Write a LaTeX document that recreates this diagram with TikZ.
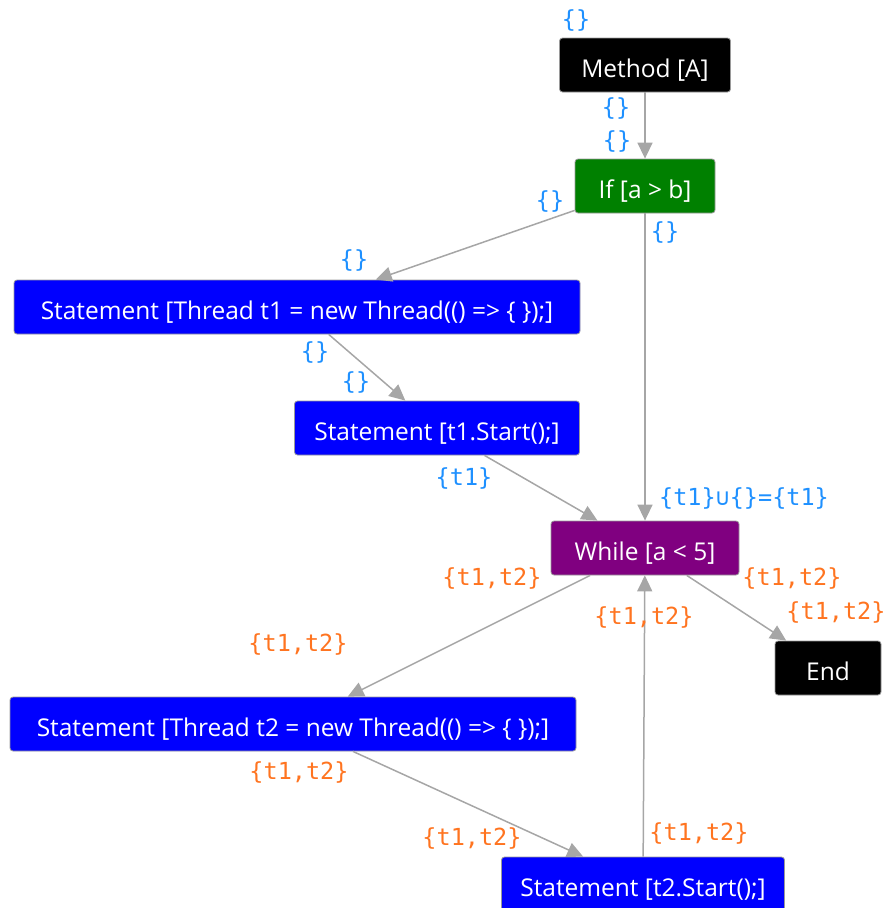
\documentclass[tikz,border=0pt]{standalone}
\usepackage{fontspec}
\setmainfont{Open Sans}
\newfontfamily\setfont{DejaVu Sans Mono}
\usetikzlibrary{arrows.meta}
\definecolor{edgegray}{HTML}{A6A6A6}
\definecolor{setblue}{HTML}{1E90FF}
\definecolor{setorange}{HTML}{FF7420}
\definecolor{stmtblue}{HTML}{0000FF}
\definecolor{ifgreen}{HTML}{008000}
\definecolor{loopviolet}{HTML}{800080}
\definecolor{boxedge}{HTML}{9A9A9A}

\begin{document}
\begin{tikzpicture}[x=1pt,y=-1pt,
  box/.style={draw=boxedge, line width=0.8pt, rounded corners=3pt, text=white,
    minimum height=54pt, inner sep=0pt, text height=25pt, text depth=0pt,
    font=\fontsize{24.5}{28}\selectfont},
  flow/.style={draw=edgegray, line width=1.5pt, -{Triangle[length=16pt,width=15pt]}},
  setlabel/.style={font=\setfont\fontsize{23.5}{26}\selectfont, inner sep=0pt},
  inflow/.style={setlabel, text=setblue},
  loopflow/.style={setlabel, text=setorange}]

\useasboundingbox (0,0) rectangle (884,908);

% control-flow nodes
\node[box, fill=black, minimum width=171pt] (method) at (645,65) {Method [A]};
\node[box, fill=ifgreen, minimum width=140pt] (cond) at (645,186) {If [a > b]};
\node[box, fill=stmtblue, minimum width=566pt] (newone) at (297,307) {Statement [Thread t1 = new Thread(() => \{ \});]};
\node[box, fill=stmtblue, minimum width=285pt] (startone) at (437,428) {Statement [t1.Start();]};
\node[box, fill=loopviolet, minimum width=188pt] (loop) at (645,548) {While [a < 5]};
\node[box, fill=black, minimum width=106pt] (fin) at (828,668) {End};
\node[box, fill=stmtblue, minimum width=566pt] (newtwo) at (293,724) {Statement [Thread t2 = new Thread(() => \{ \});]};
\node[box, fill=stmtblue, minimum width=283pt] (starttwo) at (643,884) {Statement [t2.Start();]};

% edges
\draw[flow] (method) -- (cond);
\draw[flow] (cond) -- (newone);
\draw[flow] (newone) -- (startone);
\draw[flow] (cond) -- (loop);
\draw[flow] (startone) -- (loop);
\draw[flow] (loop) -- (fin);
\draw[flow] (loop) -- (newtwo);
\draw[flow] (newtwo) -- (starttwo);
\draw[flow] (starttwo) -- (loop);

% thread sets
\node[inflow] (s0) at (576,20) {\{\}};
\node[inflow] (s1) at (616,108) {\{\}};
\node[inflow] (s2) at (617,141) {\{\}};
\node[inflow] (s3) at (550,201) {\{\}};
\node[inflow] (s4) at (665,232) {\{\}};
\node[inflow] (s5) at (354,260) {\{\}};
\node[inflow] (s6) at (315,352) {\{\}};
\node[inflow] (s7) at (356,382) {\{\}};
\node[inflow] (s8) at (464,478) {\{t1\}};
\node[inflow] (s9) at (744,498) {\{t1\}∪\{\}=\{t1\}};
\node[loopflow] (s10) at (492,578) {\{t1,t2\}};
\node[loopflow] (s11) at (792,578) {\{t1,t2\}};
\node[loopflow] (s12) at (644,617) {\{t1,t2\}};
\node[loopflow] (s13) at (836,612) {\{t1,t2\}};
\node[loopflow] (s14) at (298,644) {\{t1,t2\}};
\node[loopflow] (s15) at (299,772) {\{t1,t2\}};
\node[loopflow] (s16) at (472,838) {\{t1,t2\}};
\node[loopflow] (s17) at (699,833) {\{t1,t2\}};
\end{tikzpicture}
\end{document}
